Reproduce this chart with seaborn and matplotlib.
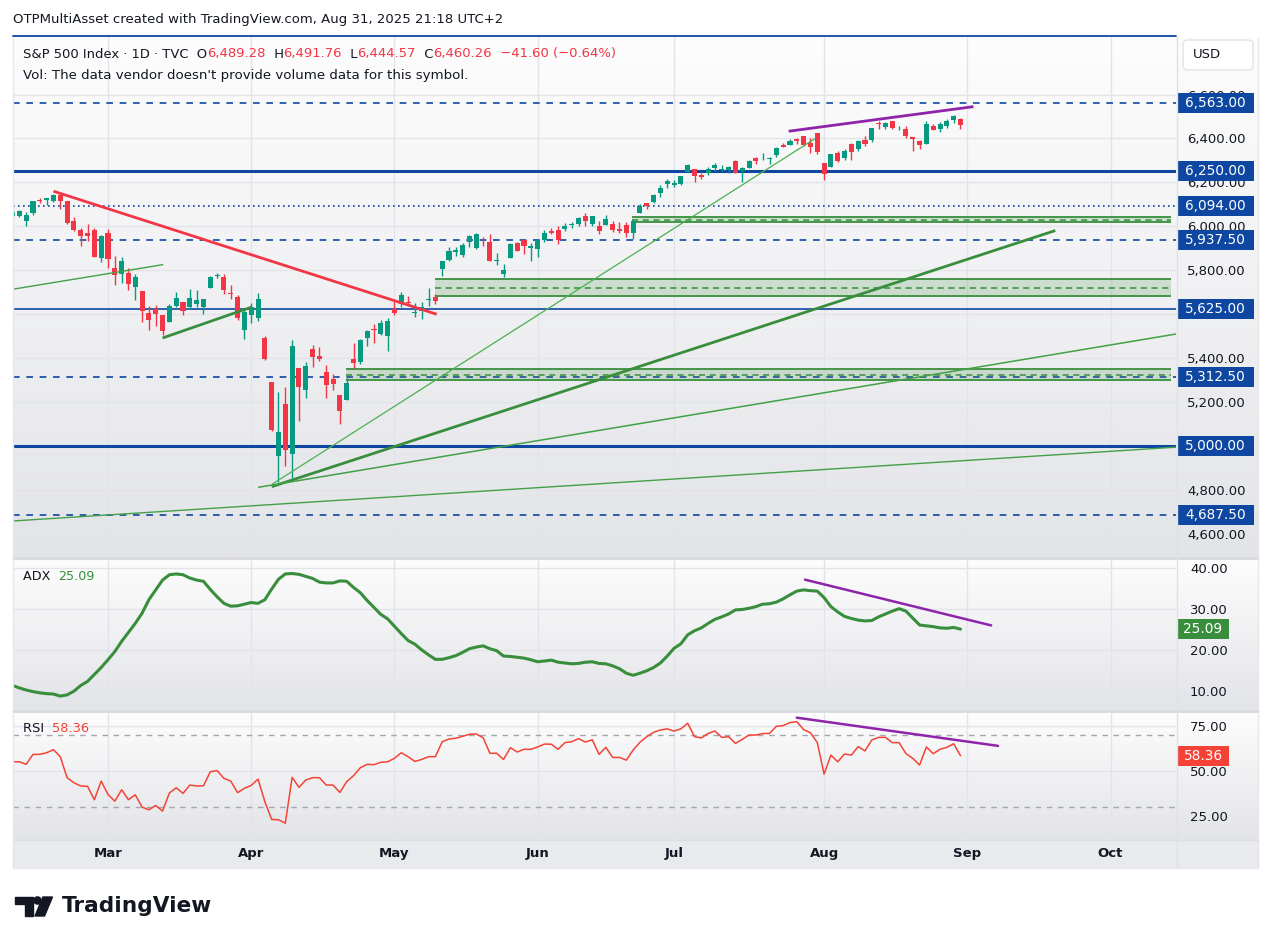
import numpy as np
import pandas as pd
import matplotlib
matplotlib.use("Agg")
import matplotlib.pyplot as plt
import matplotlib.transforms as mtransforms
from matplotlib.colors import LinearSegmentedColormap
from matplotlib.patches import Rectangle, Polygon, Circle, FancyBboxPatch
from matplotlib.lines import Line2D
import seaborn as sns

W, H = 1271, 944

# ---------------- data (S&P 500 daily) ----------------
holidays = ["2025-02-17", "2025-04-18", "2025-05-26", "2025-06-19", "2025-07-04", "2025-09-01"]

opens = [6046.40, 6049.32, 6025.08, 6060.59, 6115.52, 6121.60, 6117.76, 6141.42, 6114.10, 6026.69, 5982.73, 5970.87, 5981.88, 5856.74,
         5968.33, 5811.98, 5781.44, 5785.87, 5726.01, 5705.37, 5603.65, 5624.84, 5594.45, 5563.85, 5635.60, 5654.53, 5632.37, 5646.92, 5630.73, 5718.08, 5775.91, 5771.66, 5695.64, 5679.86, 5527.91,
         5597.53, 5580.76, 5492.74, 5292.14, 4953.79, 5193.57, 4965.28, 5353.15, 5255.56, 5441.96, 5411.99, 5335.75, 5305.45, 5232.94, 5207.67, 5395.92, 5381.38, 5489.73, 5529.22, 5508.87, 5499.44,
         5625.14, 5645.03, 5655.32, 5605.88, 5614.29, 5663.48, 5679.00, 5807.46, 5847.41, 5884.06, 5869.78, 5929.08, 5902.88, 5944.66, 5928.71, 5842.00, 5781.89, 5854.07, 5925.61, 5939.92, 5903.67,
         5896.68, 5938.56, 5978.94, 5985.67, 5987.06, 6004.60, 6009.91, 6049.38, 6009.90, 6000.56, 6004.00, 6012.15, 5987.93, 6004.42, 5969.67, 6061.21, 6104.23, 6112.10, 6150.70, 6193.36,
         6187.25, 6193.27, 6246.45, 6259.13, 6235.44, 6241.97, 6264.52, 6255.71, 6255.15, 6295.29, 6250.20, 6263.63, 6310.29, 6304.74, 6306.60, 6326.90, 6368.60, 6370.01, 6397.69, 6409.37, 6381.60, 6427.02,
         6287.28, 6271.71, 6336.23, 6309.26, 6374.32, 6351.74, 6393.00, 6395.17, 6466.89, 6453.17, 6478.92, 6445.90, 6445.27, 6405.27, 6386.49, 6374.51, 6457.67, 6440.96, 6457.57, 6483.35, 6489.28]
highs = [6073.38, 6076.28, 6063.24, 6116.91, 6127.47, 6129.63, 6147.43, 6141.42, 6114.82, 6043.65, 5992.65, 6009.82, 5993.69, 5959.40,
         5986.09, 5865.08, 5860.59, 5812.08, 5783.01, 5705.37, 5636.30, 5642.19, 5597.78, 5645.27, 5703.52, 5654.53, 5715.33, 5711.15, 5670.84, 5775.14, 5786.95, 5783.62, 5732.28, 5685.89, 5627.56,
         5650.57, 5695.31, 5499.53, 5292.14, 5246.57, 5267.47, 5481.34, 5353.15, 5381.46, 5459.46, 5450.41, 5367.24, 5328.31, 5232.94, 5309.60, 5469.69, 5489.40, 5528.11, 5553.66, 5571.95, 5581.84,
         5658.91, 5700.70, 5683.66, 5649.17, 5654.12, 5720.10, 5691.67, 5844.19, 5906.63, 5906.60, 5924.18, 5958.62, 5968.61, 5953.06, 5965.52, 5878.08, 5829.51, 5924.33, 5929.00, 5943.13, 5922.14,
         5937.40, 5981.35, 5990.48, 5999.70, 6016.87, 6021.31, 6043.01, 6059.40, 6045.43, 6026.16, 6050.83, 6023.25, 6018.25, 6018.20, 6028.81, 6101.80, 6108.51, 6146.52, 6187.68, 6215.08,
         6210.78, 6227.60, 6284.65, 6262.85, 6242.70, 6269.58, 6290.22, 6278.05, 6273.31, 6302.04, 6269.71, 6304.12, 6315.61, 6336.08, 6316.12, 6360.64, 6381.31, 6395.82, 6401.07, 6409.82, 6402.20, 6427.02,
         6288.87, 6329.94, 6343.79, 6352.83, 6379.54, 6395.16, 6409.26, 6446.55, 6480.28, 6473.75, 6481.34, 6456.19, 6458.53, 6405.27, 6393.57, 6478.24, 6466.89, 6472.94, 6488.49, 6504.88, 6491.76]
lows = [6044.84, 6042.34, 6003.00, 6051.00, 6107.62, 6099.51, 6111.15, 6079.97, 6008.56, 5977.83, 5908.49, 5932.69, 5858.78, 5837.66,
        5810.91, 5732.59, 5742.35, 5711.64, 5666.29, 5564.02, 5528.41, 5546.09, 5504.65, 5563.85, 5631.12, 5597.76, 5622.20, 5632.33, 5603.10, 5718.08, 5764.98, 5694.41, 5670.94, 5572.42, 5488.73,
        5558.52, 5571.48, 5390.83, 5069.90, 4835.04, 4910.42, 4856.75, 5115.27, 5220.77, 5358.02, 5386.44, 5220.79, 5255.58, 5101.63, 5207.67, 5356.19, 5371.96, 5455.86, 5468.64, 5505.70, 5433.24,
        5597.35, 5631.28, 5640.24, 5589.08, 5579.38, 5635.83, 5644.58, 5775.99, 5842.59, 5867.20, 5861.71, 5907.36, 5895.69, 5909.26, 5842.26, 5825.82, 5767.41, 5854.07, 5886.81, 5873.80, 5843.66,
        5861.43, 5929.00, 5966.11, 5921.20, 5978.63, 5994.18, 6000.26, 6002.32, 6003.88, 5963.21, 6004.00, 5974.80, 5971.89, 5952.56, 5943.23, 6059.46, 6080.09, 6107.20, 6132.35, 6174.97,
        6177.97, 6188.29, 6246.45, 6201.56, 6217.21, 6235.91, 6251.79, 6251.39, 6242.06, 6241.60, 6201.25, 6263.63, 6283.86, 6303.79, 6281.71, 6317.49, 6360.57, 6368.53, 6375.38, 6365.08, 6332.14, 6327.31,
        6212.69, 6271.71, 6292.13, 6301.07, 6300.44, 6345.06, 6364.21, 6385.76, 6445.02, 6441.07, 6445.03, 6436.66, 6400.22, 6343.87, 6352.76, 6374.51, 6438.06, 6429.14, 6447.02, 6471.38, 6444.57]
closes = [6066.44, 6068.50, 6051.97, 6115.07, 6114.63, 6129.58, 6144.15, 6117.52, 6013.13, 5983.25, 5955.25, 5956.06, 5861.57, 5954.50,
          5849.72, 5778.15, 5842.63, 5738.52, 5770.20, 5614.56, 5572.07, 5599.30, 5521.52, 5638.94, 5675.12, 5614.66, 5675.29, 5662.89, 5667.56, 5767.57, 5776.65, 5712.20, 5693.31, 5580.94, 5611.85,
          5633.07, 5670.97, 5396.52, 5074.08, 5062.25, 4982.77, 5456.90, 5268.05, 5363.36, 5405.97, 5396.63, 5275.70, 5282.70, 5158.20, 5287.76, 5375.86, 5484.77, 5525.21, 5528.75, 5560.83, 5569.06,
          5604.14, 5686.67, 5650.38, 5606.91, 5631.28, 5663.94, 5659.91, 5844.19, 5886.55, 5892.58, 5916.93, 5958.38, 5963.60, 5940.46, 5844.61, 5842.01, 5802.82, 5921.54, 5888.55, 5912.17, 5911.69,
          5935.94, 5970.37, 5970.81, 5939.30, 6000.36, 6005.88, 6038.81, 6022.24, 6045.26, 5976.97, 6033.11, 5982.72, 5980.87, 5967.84, 6025.17, 6092.18, 6092.16, 6141.02, 6173.07, 6204.95,
          6198.01, 6227.42, 6279.35, 6229.98, 6225.52, 6263.26, 6280.46, 6259.75, 6268.56, 6243.76, 6263.70, 6297.36, 6296.79, 6305.60, 6309.62, 6358.91, 6363.35, 6388.64, 6389.77, 6370.86, 6362.90, 6339.39,
          6238.01, 6329.94, 6299.19, 6345.06, 6340.00, 6389.45, 6373.45, 6445.76, 6466.58, 6468.54, 6449.80, 6449.15, 6411.37, 6395.78, 6370.17, 6466.91, 6439.32, 6465.94, 6481.40, 6501.86, 6460.26]

adx = [11.3, 10.7, 10.2, 9.8, 9.5, 9.3, 9.2, 8.7, 9.0, 9.9, 11.3, 12.3, 14.0, 15.7, 17.6, 19.6, 22.1, 24.3, 26.5, 29.0,
       32.3, 34.7, 37.1, 38.4, 38.6, 38.4, 37.6, 37.1, 36.8, 34.8, 33.0, 31.4, 30.7, 30.8, 31.2, 31.6, 31.4, 32.3, 34.9, 37.3,
       38.6, 38.7, 38.5, 38.0, 37.5, 36.6, 36.4, 36.4, 36.9, 36.8, 35.3, 34.0, 32.1, 30.4, 28.7, 27.6, 25.8, 24.0, 22.3, 21.4,
       20.0, 18.8, 17.7, 17.7, 18.1, 18.6, 19.4, 20.3, 20.7, 21.0, 20.3, 19.8, 18.5, 18.4, 18.2, 18.0, 17.6, 17.1, 17.3, 17.5,
       17.0, 16.8, 16.6, 16.7, 17.0, 17.1, 16.7, 16.6, 16.1, 15.4, 14.3, 13.8, 14.3, 14.9, 15.7, 16.8, 18.5, 20.4, 21.5, 23.7,
       24.7, 25.4, 26.5, 27.5, 28.1, 28.8, 29.8, 29.9, 30.2, 30.6, 31.2, 31.3, 31.7, 32.5, 33.5, 34.4, 34.7, 34.5, 34.4, 32.8,
       30.6, 29.3, 28.2, 27.7, 27.3, 27.1, 27.2, 28.1, 28.8, 29.5, 30.1, 29.5, 27.8, 26.1, 25.9, 25.7, 25.4, 25.3, 25.5, 25.09]

rsi = [55.0, 55.0, 53.6, 59.1, 59.1, 60.0, 61.7, 57.8, 46.2, 43.4, 41.6, 41.4, 34.0, 44.3, 36.9, 33.2, 39.5, 34.0, 36.7, 29.9,
       28.4, 30.8, 27.7, 37.7, 40.6, 37.5, 42.1, 41.6, 41.7, 49.5, 50.1, 45.8, 44.3, 37.9, 40.3, 41.9, 45.4, 32.9, 23.1, 22.9,
       21.0, 46.4, 40.8, 44.9, 46.2, 46.2, 42.1, 42.1, 38.0, 44.0, 47.3, 51.7, 53.6, 53.4, 54.7, 55.0, 56.9, 60.0, 57.8, 55.2,
       56.3, 57.8, 57.8, 66.1, 67.6, 68.0, 69.1, 70.2, 70.4, 68.3, 59.7, 59.7, 56.3, 62.8, 60.4, 61.9, 61.9, 63.2, 64.8, 64.7,
       61.9, 65.6, 66.1, 67.8, 65.9, 67.2, 59.1, 63.0, 57.4, 57.4, 55.9, 61.5, 65.8, 68.9, 71.3, 72.6, 73.2, 72.0, 73.2, 76.3,
       68.9, 68.2, 70.7, 72.0, 68.5, 68.9, 65.2, 67.4, 69.8, 69.8, 70.6, 70.7, 74.6, 75.0, 76.7, 77.2, 72.8, 71.1, 65.6, 48.2,
       58.7, 55.0, 59.3, 58.7, 63.4, 61.0, 67.1, 68.5, 68.5, 65.6, 65.6, 59.5, 56.9, 53.2, 63.2, 59.5, 61.9, 63.0, 65.0, 58.36]

# price scale ticks (labels fully hidden by tags are left blank)
price_ticks = [4600, 4800, 5000, 5200, 5400, 5600, 5800, 6000, 6200, 6400, 6600]
hidden_ticks = [5000, 5600]

# drawings on the chart
level_prices = [6563.0, 6250.0, 6094.0, 5937.5, 5625.0, 5312.5, 5000.0, 4687.5]
level_kinds = ["dash", "thick", "dot", "dash", "thin", "dash", "thick", "dash"]
zone_start = [90.8, 61.9, 48.9]
zone_top = [6042, 5759, 5350]
zone_mid = [6031, 5718, 5325]
zone_bottom = [6021, 5682, 5302]
# (x0, y0, x1, y1, color, width)
trend_lines = [
    (6.0, 6160, 62.2, 5600, "#f23645", 2.0),
    (0.07, 5714, 22.1, 5826, "#43a047", 1.0),
    (22.0, 5492, 35.1, 5633, "#388e3c", 2.0),
    (38.1, 4827, 117.7, 6400, "#4caf50", 0.9),
    (38.0, 4815, 152.9, 5981, "#388e3c", 2.0),
    (36.0, 4812, 170.6, 5510, "#43a047", 1.1),
    (0.07, 4659, 170.6, 4995, "#43a047", 1.0),
    (113.8, 6433, 140.9, 6545, "#8e24aa", 2.0),
]
adx_line = (116.2, 37.2, 143.5, 26.0)
rsi_line = (115.0, 79.4, 144.5, 63.8)

# ---------------- setup ----------------
sns.set_theme(style="white")
plt.rcParams["font.family"] = ["DejaVu Sans"]
TXT = "#131722"
UP, DOWN = "#089981", "#f23645"
BLUE = "#0d47a1"
GREEN = "#388e3c"
RSI_C = "#f44336"
PURPLE = "#8e24aa"

days = pd.bdate_range("2025-02-10", "2025-10-31")
days = days[~days.isin(pd.to_datetime(holidays))]
bars = np.arange(len(closes))
month_pos, month_lab = [], []
for m in range(3, 11):
    idx = np.where(days.month == m)[0][0]
    month_pos.append(idx)
    month_lab.append(days[idx].strftime("%b"))

XL = (0.07, 170.6)

fig = plt.figure(figsize=(W / 100, H / 100), dpi=100)
fig.patch.set_facecolor("white")
rend = fig.canvas.get_renderer()


def rect(x0, y0, x1, y1):
    return [x0 / W, 1 - y1 / H, (x1 - x0) / W, (y1 - y0) / H]


pix = mtransforms.Affine2D().scale(1, -1).translate(0, H)  # figure pixels, y down

# gradient backgrounds per pane (plot + price scale)
cmap = LinearSegmentedColormap.from_list("bg", ["#fdfdfd", "#e3e4e8"])
grad = np.linspace(0, 1, 256).reshape(-1, 1)
for y0, y1 in [(37, 557), (558, 710), (711, 840)]:
    bg = fig.add_axes(rect(13, y0, 1258, y1))
    bg.imshow(grad, aspect="auto", cmap=cmap, extent=[0, 1, 0, 1], origin="upper")
    bg.axis("off")

# time scale strip
fig.add_artist(Rectangle((13, 840), 1245, 28, transform=pix, color="#e9eaee", zorder=0))

ax = fig.add_axes(rect(13, 37, 1176, 557))
ax_adx = fig.add_axes(rect(13, 558, 1176, 710))
ax_rsi = fig.add_axes(rect(13, 711, 1176, 840))

for a in (ax, ax_adx, ax_rsi):
    a.set_facecolor("none")
    for s in a.spines.values():
        s.set_visible(False)
    a.set_xlim(*XL)
    a.set_xticks(month_pos)
    a.yaxis.tick_right()
    a.grid(True, color="#e2e4ea", linewidth=1)
    a.set_axisbelow(True)
    a.tick_params(length=0, labelsize=9.5, labelcolor=TXT)

ax.set_ylim(4495, 6862)
ax_adx.set_ylim(5.3, 42.5)
ax_rsi.set_ylim(11.7, 83.1)

ax.set_yticks(price_ticks)
ax.set_yticklabels(["" if v in hidden_ticks else f"{v:,.2f}" for v in price_ticks])
ax_adx.set_yticks([10, 20, 30, 40])
ax_adx.set_yticklabels(["10.00", "20.00", "30.00", "40.00"])
ax_rsi.set_yticks([25, 50, 75])
ax_rsi.set_yticklabels(["25.00", "50.00", "75.00"])
ax.tick_params(axis="y", pad=8)
ax_adx.tick_params(axis="y", pad=10)
ax_rsi.tick_params(axis="y", pad=10)
ax.set_xticklabels([])
ax_adx.set_xticklabels([])
ax_rsi.set_xticklabels(month_lab, fontweight="bold", fontsize=9.5)
ax_rsi.tick_params(axis="x", pad=5)

# ---------------- main pane ----------------
for p, k in zip(level_prices, level_kinds):
    if k == "thick":
        ax.axhline(p, color=BLUE, lw=2.2, zorder=2)
    elif k == "thin":
        ax.axhline(p, color=BLUE, lw=1.2, zorder=2)
    elif k == "dot":
        ax.axhline(p, color=BLUE, lw=1.2, ls=(0, (1, 2)), zorder=2)
    else:
        ax.axhline(p, color=BLUE, lw=1.2, ls=(0, (4, 4)), zorder=2)

zone_end = 169.9
for xs, t, m, b in zip(zone_start, zone_top, zone_mid, zone_bottom):
    ax.add_patch(Rectangle((xs, b), zone_end - xs, t - b, facecolor=GREEN, alpha=0.2, lw=0, zorder=2))
    ax.hlines([t, b], xs, zone_end, color=GREEN, lw=1.3, zorder=2)
    ax.hlines(m, xs, zone_end, color=GREEN, lw=1.1, ls=(0, (4, 3)), zorder=2)

# candles
o, h, l, c = map(np.array, (opens, highs, lows, closes))
col = np.where(c >= o, UP, DOWN)
ax.vlines(bars, l, h, colors=col, lw=1, zorder=3)
body = np.maximum(np.abs(c - o), 4)
ax.bar(bars, body, bottom=np.minimum(o, c), width=0.74, color=col, linewidth=0, zorder=4)

for x0, y0, x1, y1, cc, lw in trend_lines:
    ax.plot([x0, x1], [y0, y1], color=cc, lw=lw, zorder=5, solid_capstyle="butt")

# ---------------- indicators ----------------
sns.lineplot(x=bars, y=adx, ax=ax_adx, color=GREEN, lw=2.2)
ax_adx.plot([adx_line[0], adx_line[2]], [adx_line[1], adx_line[3]], color=PURPLE, lw=1.8)

for lv in (70, 30):
    ax_rsi.axhline(lv, color="#a3a6af", lw=1, ls=(0, (4, 4)))
sns.lineplot(x=bars, y=rsi, ax=ax_rsi, color=RSI_C, lw=1.1)
ax_rsi.plot([rsi_line[0], rsi_line[2]], [rsi_line[1], rsi_line[3]], color=PURPLE, lw=1.8)

for a in (ax, ax_adx, ax_rsi):
    a.set_xlabel("")
    a.set_ylabel("")


# ---------------- price scale tags ----------------
def tag(a, yval, label, color, x0=1177, w=77, hpx=20):
    y0, y1 = a.get_ylim()
    bb = a.get_position()
    hax = bb.height * H
    dh = hpx * (y1 - y0) / hax
    tr = mtransforms.blended_transform_factory(a.transAxes, a.transData)
    xa = (x0 - 13) / 1163
    a.add_patch(Rectangle((xa, yval - dh / 2), w / 1163, dh, transform=tr, clip_on=False,
                          facecolor=color, lw=0, zorder=10))
    a.text(xa + w / 2 / 1163, yval, label, transform=tr, clip_on=False, ha="center", va="center",
           color="white", fontsize=9.8, zorder=11)


for p in level_prices:
    tag(ax, p, f"{p:,.2f}", BLUE)
tag(ax_adx, adx[-1], f"{adx[-1]:.2f}", GREEN, w=52)
tag(ax_rsi, rsi[-1], f"{rsi[-1]:.2f}", RSI_C, w=52)

# ---------------- frame lines ----------------
for y in (557.5, 710.5):
    fig.add_artist(Line2D([13, 1258], [y, y], transform=pix, color="#d6d8de", lw=2, zorder=5))
fig.add_artist(Line2D([1176.5, 1176.5], [37, 868], transform=pix, color="#dfe1e6", lw=1, zorder=5))
fig.add_artist(Line2D([1258, 1258], [37, 868], transform=pix, color="#e6e7eb", lw=1, zorder=5))
fig.add_artist(Line2D([13, 1258], [840, 840], transform=pix, color="#dcdee3", lw=1, zorder=5))
fig.add_artist(Line2D([13, 13], [37, 868], transform=pix, color="#e6e7eb", lw=1, zorder=5))
fig.add_artist(Line2D([13, 1176], [36, 36], transform=pix, color=BLUE, lw=1.3, zorder=5))

# USD button
fig.add_artist(FancyBboxPatch((1183, 40), 70, 30, boxstyle="round,pad=0,rounding_size=5",
                              transform=pix, facecolor="white", edgecolor="#e0e3eb", lw=1, zorder=6))
fig.text(1193 / W, 1 - 55 / H, "USD", fontsize=9.5, color=TXT, va="center", ha="left", zorder=7)


# ---------------- texts ----------------
def measure(s, size, weight="normal"):
    t = fig.text(0, 0, s, fontsize=size, fontweight=weight)
    w = t.get_window_extent(renderer=rend).width
    t.remove()
    return w


def run_text(x, y, pieces, width_px, weight="normal"):
    full = "".join(s for s, _ in pieces)
    size = 10 * width_px / measure(full, 10, weight)
    done = ""
    for s, cc in pieces:
        off = measure(done + "|", size, weight) - measure("|", size, weight) if done else 0
        fig.text((x + off) / W, 1 - y / H, s, fontsize=size, color=cc, va="center", ha="left",
                 fontweight=weight, zorder=8)
        done += s
    return size


run_text(13, 19, [("OTPMultiAsset created with TradingView.com, Aug 31, 2025 21:18 UTC+2", TXT)], 489)
run_text(23, 54, [("S&P 500 Index · 1D · TVC  O", TXT), ("6,489.28", DOWN), ("  H", TXT), ("6,491.76", DOWN),
                  ("  L", TXT), ("6,444.57", DOWN), ("  C", TXT), ("6,460.26", DOWN),
                  ("  −41.60 (−0.64%)", DOWN)], 589)
run_text(23, 75, [("Vol: The data vendor doesn't provide volume data for this symbol.", TXT)], 443)
run_text(23, 577, [("ADX  ", TXT), ("25.09", GREEN)], 72)
run_text(23, 729, [("RSI  ", TXT), ("58.36", RSI_C)], 66)

# TradingView logo
fig.add_artist(Polygon([(15, 897), (33, 897), (33, 916), (25, 916), (25, 904), (15, 904)],
                       closed=True, transform=pix, color="#131722", zorder=8))
fig.add_artist(Circle((37.5, 900.5), 3.6, transform=pix, color="#131722", zorder=8))
fig.add_artist(Polygon([(43, 897), (52.5, 897), (44.5, 916), (35, 916)],
                       closed=True, transform=pix, color="#131722", zorder=8))
run_text(62, 906, [("TradingView", TXT)], 150, weight="bold")

fig.savefig("out.png", dpi=100, facecolor="white")
